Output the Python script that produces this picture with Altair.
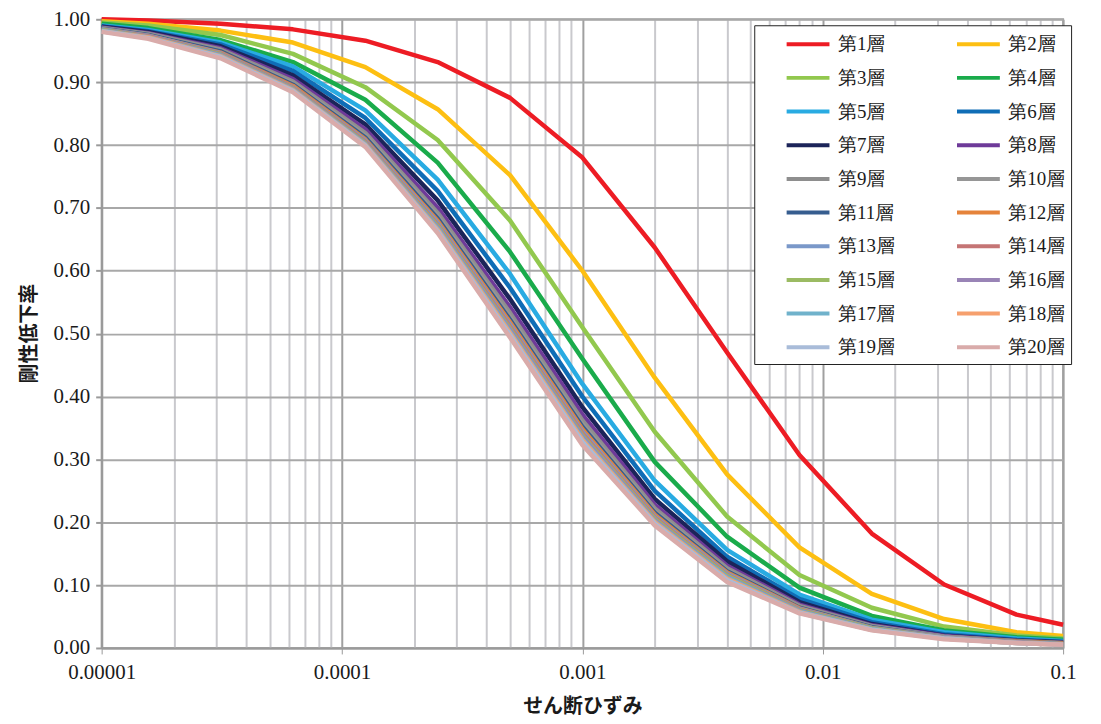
import altair as alt
import pandas as pd

strain = [0.00001, 0.000015625, 0.00003125, 0.0000625, 0.000125, 0.00025, 0.0005,
          0.001, 0.002, 0.004, 0.008, 0.016, 0.032, 0.064, 0.1]

layers = ["第1層", "第2層", "第3層", "第4層", "第5層", "第6層", "第7層", "第8層", "第9層", "第10層",
          "第11層", "第12層", "第13層", "第14層", "第15層", "第16層", "第17層", "第18層", "第19層", "第20層"]

colors = ["#ED1C24", "#FDBF12", "#92C84E", "#1AAB4B", "#29ABE2", "#0F6DB6", "#1C2459", "#6E3A99",
          "#8E8E8E", "#969696", "#365D8F", "#E5833B", "#7A98C9", "#C57575", "#9BBB63", "#9984B6",
          "#70B2CB", "#F6A06E", "#A9BCD9", "#D9ABAA"]

s01 = [1.000, 0.998, 0.993, 0.984, 0.966, 0.932, 0.875, 0.780, 0.637, 0.470, 0.307, 0.182, 0.101, 0.053, 0.037]
s02 = [0.997, 0.993, 0.982, 0.963, 0.924, 0.857, 0.752, 0.600, 0.430, 0.276, 0.160, 0.086, 0.046, 0.025, 0.019]
s03 = [0.995, 0.990, 0.975, 0.945, 0.892, 0.808, 0.680, 0.510, 0.344, 0.209, 0.116, 0.064, 0.034, 0.020, 0.015]
s04 = [0.993, 0.986, 0.967, 0.932, 0.872, 0.772, 0.630, 0.460, 0.296, 0.177, 0.096, 0.051, 0.028, 0.017, 0.013]
s05 = [0.990, 0.983, 0.963, 0.925, 0.855, 0.745, 0.595, 0.420, 0.266, 0.156, 0.085, 0.045, 0.025, 0.015, 0.011]
s06 = [0.989, 0.981, 0.960, 0.918, 0.843, 0.727, 0.573, 0.400, 0.250, 0.145, 0.078, 0.041, 0.022, 0.013, 0.010]
s07 = [0.988, 0.980, 0.957, 0.911, 0.833, 0.712, 0.555, 0.383, 0.237, 0.138, 0.073, 0.038, 0.020, 0.012, 0.009]
s08 = [0.987, 0.978, 0.954, 0.905, 0.825, 0.700, 0.542, 0.371, 0.228, 0.131, 0.069, 0.036, 0.019, 0.011, 0.008]
s09 = [0.986, 0.977, 0.952, 0.901, 0.819, 0.692, 0.533, 0.362, 0.222, 0.127, 0.067, 0.035, 0.018, 0.011, 0.008]
s10 = [0.985, 0.976, 0.950, 0.898, 0.815, 0.687, 0.527, 0.356, 0.218, 0.124, 0.065, 0.034, 0.018, 0.010, 0.007]
s11 = [0.985, 0.975, 0.949, 0.896, 0.812, 0.683, 0.522, 0.352, 0.215, 0.122, 0.064, 0.033, 0.017, 0.010, 0.007]
s12 = [0.984, 0.974, 0.947, 0.894, 0.809, 0.679, 0.518, 0.348, 0.212, 0.120, 0.063, 0.032, 0.017, 0.010, 0.007]
s13 = [0.984, 0.974, 0.946, 0.892, 0.807, 0.676, 0.514, 0.344, 0.209, 0.118, 0.062, 0.032, 0.017, 0.009, 0.006]
s14 = [0.983, 0.973, 0.945, 0.891, 0.805, 0.673, 0.511, 0.341, 0.207, 0.116, 0.061, 0.031, 0.016, 0.009, 0.006]
s15 = [0.983, 0.972, 0.944, 0.890, 0.803, 0.671, 0.508, 0.338, 0.205, 0.115, 0.060, 0.031, 0.016, 0.009, 0.006]
s16 = [0.982, 0.972, 0.943, 0.889, 0.802, 0.669, 0.506, 0.336, 0.203, 0.113, 0.059, 0.030, 0.016, 0.009, 0.006]
s17 = [0.982, 0.971, 0.942, 0.888, 0.801, 0.667, 0.503, 0.333, 0.201, 0.112, 0.058, 0.030, 0.015, 0.008, 0.006]
s18 = [0.981, 0.971, 0.941, 0.887, 0.800, 0.665, 0.501, 0.331, 0.200, 0.110, 0.057, 0.029, 0.015, 0.008, 0.005]
s19 = [0.981, 0.970, 0.940, 0.886, 0.799, 0.663, 0.498, 0.328, 0.198, 0.108, 0.056, 0.029, 0.015, 0.008, 0.005]
s20 = [0.980, 0.969, 0.938, 0.884, 0.797, 0.660, 0.494, 0.323, 0.195, 0.105, 0.055, 0.028, 0.014, 0.008, 0.005]

series = [s01, s02, s03, s04, s05, s06, s07, s08, s09, s10,
          s11, s12, s13, s14, s15, s16, s17, s18, s19, s20]

x_grid = [m * 10.0 ** e for e in range(-5, -1) for m in range(1, 10)] + [0.1]
y_ticks = [i / 10 for i in range(11)]

rows = []
for i, (name, vals) in enumerate(zip(layers, series)):
    for x, v in zip(strain, vals):
        rows.append({"layer": name, "order": i, "strain": x, "ratio": v})
df = pd.DataFrame(rows)

major_test = "abs(log(datum.value)/LN10 - round(log(datum.value)/LN10)) < 0.000001"
serif = "'Liberation Serif', 'Times New Roman', 'DejaVu Serif', serif"
cjk = "Noto Sans CJK JP"

chart = alt.Chart(df).mark_line(strokeWidth=4.5, strokeCap="butt", strokeJoin="round").encode(
    x=alt.X("strain:Q",
            scale=alt.Scale(type="log", domain=[0.00001, 0.1], nice=False),
            axis=alt.Axis(values=x_grid, title="せん断ひずみ",
                          labelExpr=f"({major_test}) ? format(datum.value, '.5~f') : ''",
                          labelOverlap=False, labelBound=False, labelFlush=False,
                          labelFont=serif, labelFontSize=21, labelColor="#1a1a1a", labelPadding=8,
                          tickSize=6,
                          tickColor={"condition": {"test": major_test, "value": "#9a9a9a"}, "value": "transparent"},
                          gridColor={"condition": {"test": major_test, "value": "#a0a0a0"}, "value": "#c9c9cd"},
                          gridWidth=2, domainColor="#9a9a9a", domainWidth=2,
                          titleFont=cjk, titleFontSize=20, titleFontWeight="bold", titleColor="#1a1a1a",
                          titleY=59, titleBaseline="middle")),
    y=alt.Y("ratio:Q",
            scale=alt.Scale(domain=[0, 1], nice=False),
            axis=alt.Axis(values=y_ticks, format=".2f", title="剛性低下率",
                          labelFont=serif, labelFontSize=21, labelColor="#1a1a1a", labelPadding=6,
                          tickSize=6, tickColor="#9a9a9a", tickWidth=2,
                          gridColor="#a8a8a8", gridWidth=2, domainColor="#9a9a9a", domainWidth=2,
                          titleFont=cjk, titleFontSize=20, titleFontWeight="bold", titleColor="#1a1a1a",
                          titleAngle=-90, titleX=-72, titleY=315, titleAlign="center", titleBaseline="middle")),
    color=alt.Color("layer:N",
                    scale=alt.Scale(domain=layers, range=colors),
                    legend=alt.Legend(title=None, orient="none", legendX=655, legendY=6,
                                      columns=2, direction="horizontal",
                                      symbolType="M-2,0H2", symbolStrokeWidth=4, symbolSize=462,
                                      symbolOffset=35, columnPadding=36, rowPadding=10.8,
                                      labelFont=serif, labelFontSize=19, labelColor="#1a1a1a",
                                      labelOffset=17, padding=6,
                                      strokeColor="#222222", fillColor="white")),
    order=alt.Order("order:Q"),
    detail="layer:N",
).properties(
    width=965, height=631,
    autosize=alt.AutoSizeParams(type="none"),
    padding={"left": 94, "top": 10, "right": 30, "bottom": 80},
).configure_view(stroke="#a0a0a0", strokeWidth=2)

chart.save("out.html", embed_options={"renderer": "svg", "actions": False})
